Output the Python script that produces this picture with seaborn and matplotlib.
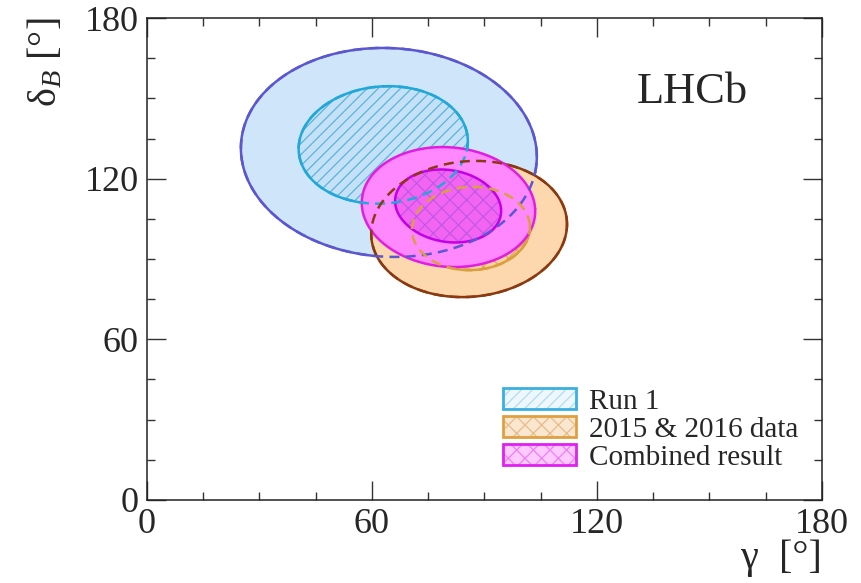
import numpy as np
import matplotlib
matplotlib.use("Agg")
import matplotlib.pyplot as plt
import seaborn as sns
from matplotlib.patches import Patch
from matplotlib.legend_handler import HandlerTuple


# confidence regions in (gamma, delta_B), degrees
# each contour: centre, half-axes and shear terms
REGIONS = ["Run 1", "2015 & 2016 data", "Combined result"]

# outer (95%) contours
OUTER_CX = [64.5, 85.9, 80.4]
OUTER_CY = [129.8, 101.2, 109.4]
OUTER_A = [39.0, 26.1, 23.1]
OUTER_B = [38.3, 25.4, 22.4]
OUTER_C = [-7.5, 1.3, -0.6]
OUTER_E = [6.0, 0.5, -1.0]

# inner (68%) contours
INNER_CX = [63.0, 86.4, 80.3]
INNER_CY = [132.6, 101.4, 109.8]
INNER_A = [22.2, 15.7, 14.1]
INNER_B = [21.8, 15.5, 13.6]
INNER_C = [-2.5, 1.3, -0.9]
INNER_E = [4.0, -0.9, -1.0]

X_TICKS = [0, 60, 120, 180]
Y_TICKS = [0, 60, 120, 180]

OUTER_FILL = ["#cee5fa", "#fdd8ae", "#ff88ff"]
OUTER_EDGE = ["#5b57d0", "#8b3a10", "#e01ee0"]
INNER_FILL = ["#c4e1f8", "#fdd0a0", "#f464f2"]
INNER_HATCH = ["#5ab4dc", "#e0a860", "#c258e6"]
INNER_EDGE = ["#22a8d8", "#d9a040", "#c400e4"]
HATCHES = ["///", "xx", "xx"]

LEG_FILL = ["#eef7fd", "#fbe6cf", "#ffcaff"]
LEG_HATCH = ["#b0dcf2", "#e6bc8a", "#ec80f4"]
LEG_EDGE = ["#3ab0e0", "#e0a040", "#e020f0"]


def contour(cx, cy, a, b, c, e):
    t = np.linspace(0, 2 * np.pi, 300)
    x = cx + a * np.cos(t) + e * np.sin(t)
    y = cy + c * np.cos(t) + b * np.sin(t)
    return x, y


def draw_edge(ax, x, y, color, dashed=False, z=3):
    sns.lineplot(x=x, y=y, sort=False, estimator=None, color=color,
                 lw=1.8, ax=ax, zorder=z,
                 linestyle=(0, (4, 2.5)) if dashed else "-")


def main():
    sns.set_style("ticks")
    plt.rcParams["font.family"] = ["Liberation Serif", "DejaVu Serif"]
    plt.rcParams["mathtext.fontset"] = "custom"
    plt.rcParams["mathtext.rm"] = "Liberation Serif"
    plt.rcParams["mathtext.it"] = "Liberation Serif:italic"
    plt.rcParams["hatch.linewidth"] = 0.9

    fig = plt.figure(figsize=(8.62, 5.83), dpi=100)
    ax = fig.add_axes([0.1705, 0.1424, 0.7831, 0.8267])

    outer = [contour(*p) for p in zip(OUTER_CX, OUTER_CY, OUTER_A,
                                      OUTER_B, OUTER_C, OUTER_E)]
    inner = [contour(*p) for p in zip(INNER_CX, INNER_CY, INNER_A,
                                      INNER_B, INNER_C, INNER_E)]

    z = 1
    for i in range(len(REGIONS)):
        ox, oy = outer[i]
        ix, iy = inner[i]
        ax.fill(ox, oy, color=OUTER_FILL[i], lw=0, zorder=z)
        draw_edge(ax, ox, oy, OUTER_EDGE[i], z=z + 0.5)
        ax.fill(ix, iy, facecolor=INNER_FILL[i], lw=0, zorder=z + 0.6)
        ax.fill(ix, iy, facecolor="none", edgecolor=INNER_HATCH[i],
                hatch=HATCHES[i], lw=0, zorder=z + 0.7)
        draw_edge(ax, ix, iy, INNER_EDGE[i], z=z + 0.8)
        z += 1

    # individual contours shown dashed where covered
    for i in range(2):
        draw_edge(ax, *outer[i], OUTER_EDGE[i], dashed=True, z=10)
        draw_edge(ax, *inner[i], INNER_EDGE[i], dashed=True, z=10)

    ax.set_xlim(0, 180)
    ax.set_ylim(0, 180)
    ax.set_xticks(X_TICKS)
    ax.set_yticks(Y_TICKS)
    ax.set_xticks(np.arange(0, 181, 15), minor=True)
    ax.set_yticks(np.arange(0, 181, 15), minor=True)
    ax.tick_params(which="both", direction="in", top=True, right=True,
                   width=1.0, color="#333333")
    ax.tick_params(which="major", length=14, labelsize=26, pad=6)
    ax.tick_params(which="minor", length=6)
    for s in ax.spines.values():
        s.set_linewidth(1.1)
        s.set_color("#222222")

    ax.set_xlabel("γ  [°]", fontsize=29, loc="right", labelpad=-1)
    ax.set_ylabel("δ$_{B}$ [°]", fontsize=29, loc="top", labelpad=14)

    ax.text(0.726, 0.824, "LHCb", transform=ax.transAxes, fontsize=32,
            ha="left", va="baseline")

    handles = []
    for i in range(len(REGIONS)):
        back = Patch(facecolor=LEG_FILL[i], edgecolor=LEG_HATCH[i],
                     hatch=HATCHES[i], lw=0)
        rim = Patch(facecolor="none", edgecolor=LEG_EDGE[i], lw=2)
        handles.append((back, rim))
    ax.legend(handles, REGIONS, handler_map={tuple: HandlerTuple(ndivide=1)},
              loc="upper left", bbox_to_anchor=(0.527, 0.232),
              frameon=False, fontsize=21, borderpad=0, borderaxespad=0,
              handlelength=2.5, handleheight=0.7, handletextpad=0.45,
              labelspacing=0.06)

    fig.savefig("out.png", dpi=100)


if __name__ == "__main__":
    main()
